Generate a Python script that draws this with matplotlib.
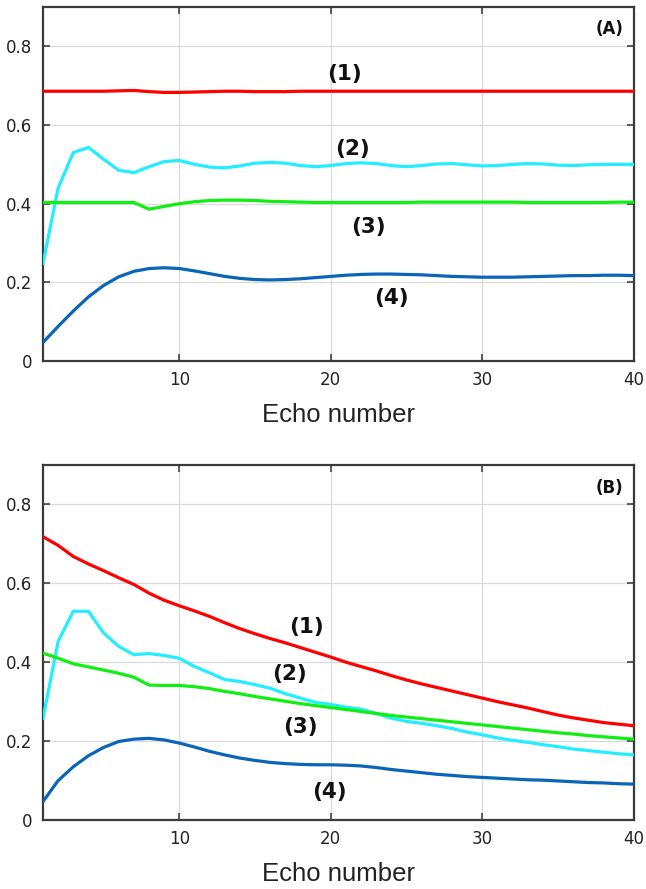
import numpy as np
import matplotlib
matplotlib.use('Agg')
import matplotlib.pyplot as plt

# echo index 1..40
echo = np.arange(1, 41)

# panel A series
a1 = [0.686, 0.686, 0.686, 0.686, 0.686, 0.687, 0.688, 0.685, 0.683, 0.683,
      0.684, 0.685, 0.686, 0.686, 0.685, 0.685, 0.685, 0.686, 0.686, 0.686,
      0.686, 0.686, 0.686, 0.686, 0.686, 0.686, 0.686, 0.686, 0.686, 0.686,
      0.686, 0.686, 0.686, 0.686, 0.686, 0.686, 0.686, 0.686, 0.686, 0.686]
a2 = [0.248, 0.440, 0.530, 0.543, 0.513, 0.485, 0.479, 0.494, 0.507, 0.510,
      0.500, 0.493, 0.491, 0.496, 0.503, 0.505, 0.503, 0.497, 0.494, 0.497,
      0.502, 0.504, 0.502, 0.497, 0.494, 0.497, 0.501, 0.502, 0.499, 0.496,
      0.497, 0.500, 0.502, 0.501, 0.498, 0.497, 0.499, 0.500, 0.500, 0.500]
a3 = [0.403, 0.403, 0.403, 0.403, 0.403, 0.403, 0.403, 0.386, 0.393, 0.400,
      0.405, 0.408, 0.409, 0.409, 0.408, 0.406, 0.405, 0.404, 0.403, 0.403,
      0.403, 0.403, 0.403, 0.403, 0.403, 0.404, 0.404, 0.404, 0.404, 0.404,
      0.404, 0.404, 0.403, 0.403, 0.403, 0.403, 0.403, 0.403, 0.404, 0.404]
a4 = [0.047, 0.088, 0.127, 0.163, 0.192, 0.214, 0.228, 0.235, 0.237, 0.235,
      0.229, 0.222, 0.215, 0.210, 0.207, 0.206, 0.207, 0.209, 0.212, 0.215,
      0.218, 0.220, 0.221, 0.221, 0.220, 0.219, 0.217, 0.215, 0.214, 0.213,
      0.213, 0.213, 0.214, 0.215, 0.216, 0.217, 0.217, 0.218, 0.218, 0.217]

# panel B series
b1 = [0.718, 0.696, 0.668, 0.649, 0.632, 0.614, 0.597, 0.575, 0.557, 0.543,
      0.530, 0.516, 0.500, 0.485, 0.472, 0.460, 0.449, 0.437, 0.425, 0.413,
      0.400, 0.389, 0.378, 0.366, 0.355, 0.345, 0.336, 0.327, 0.318, 0.309,
      0.300, 0.292, 0.284, 0.275, 0.266, 0.259, 0.253, 0.247, 0.243, 0.239]
b2 = [0.258, 0.453, 0.529, 0.529, 0.474, 0.440, 0.419, 0.422, 0.417, 0.410,
      0.389, 0.373, 0.356, 0.351, 0.343, 0.334, 0.320, 0.309, 0.298, 0.293,
      0.286, 0.281, 0.270, 0.258, 0.250, 0.245, 0.239, 0.232, 0.223, 0.216,
      0.208, 0.202, 0.197, 0.191, 0.186, 0.180, 0.176, 0.172, 0.168, 0.165]
b3 = [0.423, 0.410, 0.396, 0.388, 0.380, 0.372, 0.362, 0.342, 0.341, 0.341,
      0.338, 0.333, 0.326, 0.320, 0.313, 0.307, 0.301, 0.295, 0.290, 0.285,
      0.280, 0.275, 0.270, 0.265, 0.261, 0.257, 0.253, 0.249, 0.245, 0.241,
      0.237, 0.233, 0.229, 0.225, 0.221, 0.218, 0.214, 0.211, 0.208, 0.205]
b4 = [0.047, 0.100, 0.135, 0.163, 0.184, 0.199, 0.205, 0.207, 0.203, 0.195,
      0.185, 0.174, 0.165, 0.157, 0.151, 0.146, 0.143, 0.141, 0.140, 0.140,
      0.139, 0.137, 0.133, 0.128, 0.124, 0.120, 0.116, 0.113, 0.110, 0.108,
      0.106, 0.104, 0.102, 0.101, 0.099, 0.097, 0.095, 0.094, 0.092, 0.091]

colors = ['#ff0000', '#22eeff', '#11ee11', '#0a64b8']
curve_names = ['(1)', '(2)', '(3)', '(4)']

# label positions (echo, value) for each panel
label_pos_a = [(20.9, 0.731), (21.4, 0.540), (22.5, 0.341), (24.0, 0.161)]
label_pos_b = [(18.4, 0.488), (17.3, 0.369), (18.0, 0.237), (19.9, 0.072)]

fig = plt.figure(figsize=(6.46, 8.89), dpi=100)
ax_a = fig.add_axes([0.0666, 0.594, 0.9144, 0.398])
ax_b = fig.add_axes([0.0666, 0.0776, 0.9144, 0.3994])


def draw_panel(ax, series, label_pos, tag, tag_pos):
    for y, c in zip(series, colors):
        ax.plot(echo, y, color=c, linewidth=2.3, zorder=3)
    for name, (px, py) in zip(curve_names, label_pos):
        ax.text(px, py, name, fontsize=15.5, fontweight='bold', ha='center',
                va='center', color='#111111')
    ax.text(tag_pos[0], tag_pos[1], tag, fontsize=12, fontweight='bold',
            ha='center', va='center', color='#111111')
    ax.set_xlim(1, 40)
    ax.set_ylim(0, 0.9)
    ax.set_xticks([10, 20, 30, 40])
    ax.set_yticks([0, 0.2, 0.4, 0.6, 0.8])
    ax.set_yticklabels(['0', '0.2', '0.4', '0.6', '0.8'])
    ax.grid(True, color='#dadada', linewidth=0.9, zorder=0)
    ax.tick_params(direction='in', top=True, right=True, length=5,
                   width=1.1, color='#333333', labelsize=12,
                   labelcolor='#222222', pad=7.5)
    for s in ax.spines.values():
        s.set_color('#3a3a3a')
        s.set_linewidth(1.6)
    ax.set_xlabel('Echo number', fontsize=18.5, family='Liberation Sans',
                  color='#222222', labelpad=9.5)


draw_panel(ax_a, [a1, a2, a3, a4], label_pos_a, '(A)', (38.4, 0.845))
draw_panel(ax_b, [b1, b2, b3, b4], label_pos_b, '(B)', (38.4, 0.842))

fig.savefig('out.png', dpi=100)
